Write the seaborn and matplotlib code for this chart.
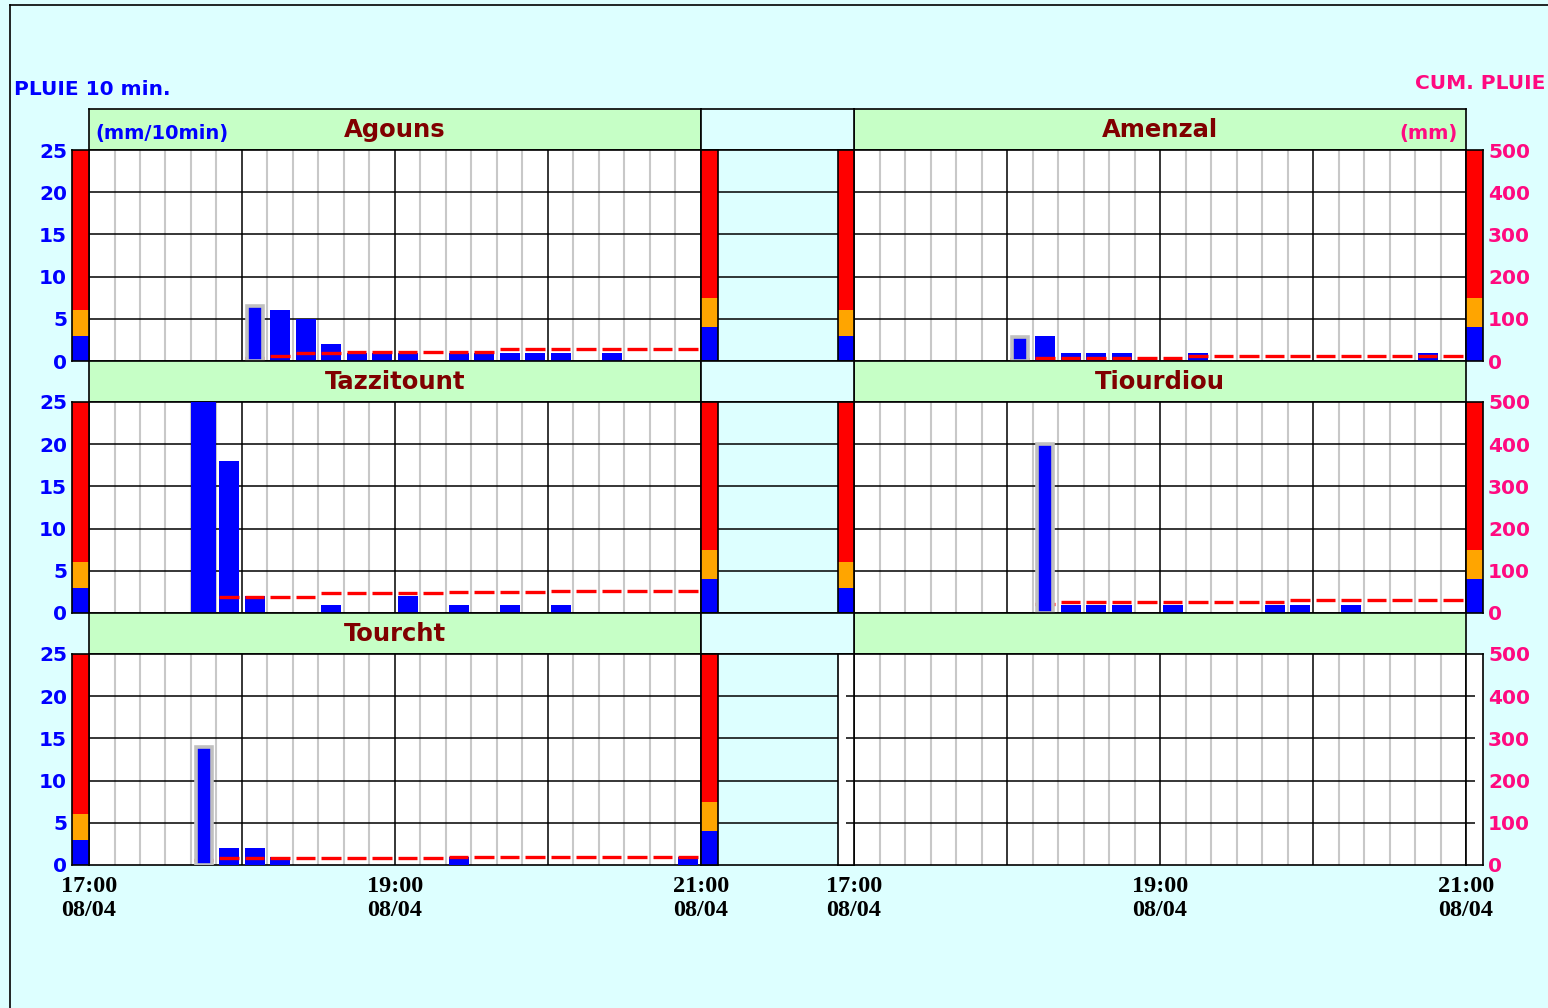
import numpy as np
import matplotlib
matplotlib.use("Agg")
import matplotlib.pyplot as plt
from matplotlib.lines import Line2D
from matplotlib.transforms import Affine2D
import seaborn as sns

W, H = 1548, 1008

# time axis: 24 ten-minute slots, 17:00 -> 21:00 on 08/04
n_slots = 24
hour_every = 6
tick_slots = [0, 12, 24]
tick_labels = ["17:00\n08/04", "19:00\n08/04", "21:00\n08/04"]

rain_ticks = [0, 5, 10, 15, 20, 25]
cum_ticks = [0, 100, 200, 300, 400, 500]
rain_max, cum_max = 25, 500
# alert levels: blue / orange / red
rain_levels = [3, 6, 25]
cum_levels = [80, 150, 500]

# rain per 10 min (slot index, mm) and cumulated rain (mm) from the first slot with rain
agouns_slots = [6, 7, 8, 9, 10, 11, 12, 14, 15, 16, 17, 18, 20]
agouns_rain = [6.5, 6.0, 5.0, 2.0, 1.0, 1.0, 1.0, 1.0, 1.0, 1.0, 1.0, 1.0, 1.0]
agouns_cum = [6.5, 12.6, 18, 18, 20.5, 20.5, 20.5, 20.5, 20.5, 20.5,
              27.6, 27.6, 27.6, 27.6, 27.6, 27.6, 27.6, 27.6]

amenzal_slots = [6, 7, 8, 9, 10, 13, 22]
amenzal_rain = [2.8, 3.0, 1.0, 1.0, 1.0, 1.0, 1.0]
amenzal_cum = [4.7, 7.9, 7.9, 7.9, 7.9, 7.9, 7.9,
               12.3, 12.3, 12.3, 12.3, 12.3, 12.3, 12.3, 12.3, 12.3, 12.3, 12.3]

tazzitount_slots = [4, 5, 6, 9, 12, 14, 16, 18]
tazzitount_rain = [25, 18, 2, 1, 2, 1, 1, 1]
tazzitount_cum = [25, 38.7, 38.7, 38.7, 38.7, 48, 48, 48, 48, 48,
                  49, 49, 49, 49, 52, 52, 52, 52, 52, 52]

tiourdiou_slots = [7, 8, 9, 10, 12, 16, 17, 19]
tiourdiou_rain = [20, 1, 1, 1, 1, 1, 1, 1]
tiourdiou_cum = [20.6, 27, 27, 27, 27, 27, 27, 27, 27, 27,
                 31, 31, 31, 31, 31, 31, 31]

tourcht_slots = [4, 5, 6, 7, 14, 23]
tourcht_rain = [14, 2, 2, 1, 1, 1]
tourcht_cum = [11.8, 15.8, 15.8, 15.8, 15.8, 15.8, 15.8, 15.8, 15.8, 15.8,
               19, 19, 19, 19, 19, 19, 19, 19, 19, 19]

# slot of the framed (grey) bar, None when there is none
highlight = {"Agouns": 6, "Amenzal": 6, "Tazzitount": None, "Tiourdiou": 7, "Tourcht": 4}

data = {
    "Agouns": (agouns_slots, agouns_rain, agouns_cum),
    "Amenzal": (amenzal_slots, amenzal_rain, amenzal_cum),
    "Tazzitount": (tazzitount_slots, tazzitount_rain, tazzitount_cum),
    "Tiourdiou": (tiourdiou_slots, tiourdiou_rain, tiourdiou_cum),
    "Tourcht": (tourcht_slots, tourcht_rain, tourcht_cum),
}
layout = [("Agouns", "Amenzal"), ("Tazzitount", "Tiourdiou"), ("Tourcht", None)]

BG = "#DDFFFF"
HEAD = "#C6FFC6"
BLUE = "#0000FF"
ORANGE = "#FFA500"
RED = "#FF0000"
PINK = "#FF0A80"
DARKRED = "#800000"
GREY = "#C8C8C8"

plt.rcParams["font.family"] = ["DejaVu Sans"]


def rect(x0, y0, x1, y1):
    return [x0 / W, 1 - y1 / H, (x1 - x0) / W, (y1 - y0) / H]


def frame(ax, face):
    ax.set_facecolor(face)
    ax.set_xticks([])
    ax.set_yticks([])
    for s in ax.spines.values():
        s.set_color("black")
        s.set_linewidth(1.2)


def gauge(ax, levels, top):
    bottoms = [0] + levels[:-1]
    heights = np.diff([0] + levels)
    ax.bar([0] * 3, heights, bottom=bottoms, width=1, color=[BLUE, ORANGE, RED], linewidth=0)
    ax.set_xlim(-0.5, 0.5)
    ax.set_ylim(0, top)


def panel(ax, name):
    for s in range(1, n_slots):
        if s % hour_every:
            ax.axvline(s, color=GREY, lw=1.5, zorder=1)
        else:
            ax.axvline(s, color="black", lw=1.1, zorder=2)
    for v in rain_ticks[1:-1]:
        ax.axhline(v, color="black", lw=1.1, zorder=2)
    if name is not None:
        slots, rain, cum = (np.array(a, dtype=float) for a in data[name])
        hl = highlight[name]
        normal = (slots != hl) & (rain < rain_max)
        sns.barplot(x=slots[normal] + 0.5, y=rain[normal], native_scale=True, orient="x",
                    width=0.78, color=BLUE, saturation=1, errorbar=None, linewidth=0,
                    ax=ax, zorder=3)
        # over-scale bars fill the whole slot
        over = rain >= rain_max
        ax.bar(slots[over] + 0.5, rain[over], width=1.0, color=BLUE, linewidth=0, zorder=5)
        if hl is not None:
            ax.bar(hl + 0.5, rain[slots == hl], width=0.64, color=BLUE,
                   edgecolor="#C0C0C0", linewidth=2.6, zorder=5)
        pos = slots[0] + np.arange(len(cum))
        tr = Affine2D().scale(1, rain_max / cum_max) + ax.transData
        ax.hlines(cum, pos + 0.1, pos + 0.88, colors=RED, lw=2.4, transform=tr, zorder=4)
    ax.set_xlabel("")
    ax.set_ylabel("")
    ax.set_xlim(0, n_slots)
    ax.set_ylim(0, rain_max)


fig = plt.figure(figsize=(W / 100, H / 100), dpi=100, facecolor=BG)

row_top = [109, 361, 613]
L, M, R = (89, 701), (701, 854), (854, 1466)
lab_font = dict(fontsize=14.5, fontweight="bold")

for r, (left, right) in enumerate(layout):
    ht = row_top[r]
    pt = ht + 41
    pb = pt + 211

    for (x0, x1), name in ((L, left), (R, right)):
        hax = fig.add_axes(rect(x0, ht, x1, pt))
        frame(hax, HEAD)
        if name:
            hax.text(0.5, 0.317, name, transform=hax.transAxes, ha="center", va="baseline",
                     color=DARKRED, fontsize=17.5, fontweight="bold")
        if r == 0 and x0 == L[0]:
            hax.text(0.01, 0.40, "(mm/10min)", transform=hax.transAxes, ha="left", va="center",
                     color=BLUE, fontsize=14, fontweight="bold")
        if r == 0 and x0 == R[0]:
            hax.text(0.987, 0.40, "(mm)", transform=hax.transAxes, ha="right", va="center",
                     color=PINK, fontsize=14, fontweight="bold")

    mh = fig.add_axes(rect(M[0], ht, M[1], pt))
    frame(mh, BG)

    # middle strip between the two columns
    mid = fig.add_axes(rect(M[0], pt, M[1], pb))
    frame(mid, BG)
    mid.set_ylim(0, rain_max)
    for v in rain_ticks[1:-1]:
        mid.axhline(v, color="black", lw=1.1)

    for (x0, x1), name in ((L, left), (R, right)):
        ax = fig.add_axes(rect(x0, pt, x1, pb))
        frame(ax, "white")
        panel(ax, name)
        ax.set_xticks([])
        ax.set_yticks([])
        if r == len(layout) - 1:
            ax.set_xticks(tick_slots, tick_labels, fontfamily="Liberation Serif",
                          fontweight="bold", fontsize=17.5, linespacing=1.2)
            ax.tick_params(axis="x", length=0, pad=8)

    # alert gauges
    g1 = fig.add_axes(rect(72, pt, 89, pb))
    frame(g1, "white")
    gauge(g1, rain_levels, rain_max)
    g1.set_yticks(rain_ticks, [str(t) for t in rain_ticks], color=BLUE, **lab_font)
    g1.tick_params(axis="y", length=0, pad=3.6)

    g2 = fig.add_axes(rect(701, pt, 718, pb))
    frame(g2, "white")
    gauge(g2, cum_levels, cum_max)

    g3 = fig.add_axes(rect(838, pt, 854, pb))
    frame(g3, "white")
    g4 = fig.add_axes(rect(1466, pt, 1483, pb))
    frame(g4, "white")
    if right:
        gauge(g3, rain_levels, rain_max)
        gauge(g4, cum_levels, cum_max)
    else:
        g3.set_xlim(-0.5, 0.5)
        g3.set_ylim(0, rain_max)
        g3.hlines(rain_ticks[1:-1], 0, 0.5, colors="black", lw=1.1)
        g4.set_xlim(-0.5, 0.5)
        g4.set_ylim(0, cum_max)
        g4.hlines(cum_ticks[1:-1], -0.5, 0, colors="black", lw=1.1)
    g4.yaxis.tick_right()
    g4.set_yticks(cum_ticks, [str(t) for t in cum_ticks], color=PINK, **lab_font)
    g4.tick_params(axis="y", length=0, pad=3.6)

fig.text(14 / W, 1 - 89.5 / H, "PLUIE 10 min.", ha="left", va="center", color=BLUE, **lab_font)
fig.text(1415 / W, 1 - 83.5 / H, "CUM. PLUIE", ha="left", va="center", color=PINK, **lab_font)

fig.add_artist(Line2D([10 / W, 10 / W], [0, 1 - 5 / H], color="black", lw=1.2))
fig.add_artist(Line2D([10 / W, 1], [1 - 5 / H, 1 - 5 / H], color="black", lw=1.2))

fig.savefig("out.png", dpi=100, facecolor=BG)
